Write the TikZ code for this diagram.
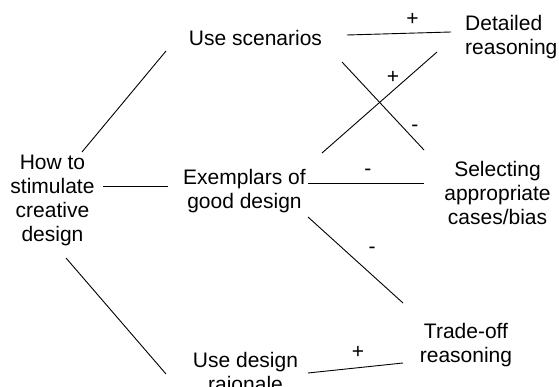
\documentclass[tikz,border=0pt]{standalone}
\usepackage{fontspec}
\setmainfont{Liberation Sans}
\usetikzlibrary{calc}
\begin{document}
\begin{tikzpicture}[x=1pt,y=-1pt,
  lbl/.style={inner sep=0pt, align=center, anchor=north, font=\fontsize{21}{24}\selectfont},
  sgn/.style={inner sep=0pt, font=\fontsize{21}{24}\selectfont},
  link/.style={line width=0.9pt}]
\useasboundingbox (0,0) rectangle (559,387);
\clip (0,0) rectangle (559,387);
\fill[white] (0,0) rectangle (559,387);

% concepts
\node[lbl] (how) at (52.5,155) {How to\\stimulate\\creative\\design};
\node[lbl] (usescen) at (255.5,30) {Use scenarios};
\node[lbl] (exemplars) at (244.5,169) {Exemplars of\\good design};
\node[lbl] (usedesign) at (245.5,352) {Use design\\raionale};
\node[lbl, align=left, anchor=north west] (detailed) at (465,15) {Detailed\\reasoning};
\node[lbl] (selecting) at (497.5,161) {Selecting\\appropriate\\cases/bias};
\node[lbl] (tradeoff) at (466,323) {Trade-off\\reasoning};

% options from the question
\draw[link] ($(how.north)+(29.5,-3)$) -- ($(usescen.north)+(-89.5,21)$);
\draw[link] ($(how.north)+(50.5,31)$) -- ($(exemplars.north)+(-76.5,17)$);
\draw[link] ($(how.north)+(13.5,103)$) -- ($(usedesign.north)+(-79.5,22)$);

% criteria with their signs
\draw[link] ($(usescen.north)+(91.5,5)$) -- ($(detailed.north west)+(-14,17)$)
  node[sgn, pos=0.63, yshift=13.8pt] (s1) {+};
\draw[link] ($(exemplars.north)+(77.5,-16)$) -- ($(detailed.north west)+(-28,37)$)
  node[sgn, pos=0.617, yshift=13.5pt] (s2) {+};
\draw[link] ($(usescen.north)+(86.5,32)$) -- ($(selecting.north)+(-73.5,-11)$)
  node[sgn, pos=0.89, yshift=11.7pt] (s3) {-};
\draw[link] ($(exemplars.north)+(63.5,14)$) -- ($(selecting.north)+(-73.5,22)$)
  node[sgn, pos=0.517, yshift=10.7pt] (s4) {-};
\draw[link] ($(exemplars.north)+(63.5,48)$) -- ($(tradeoff.north)+(-63,-20)$)
  node[sgn, pos=0.674, yshift=24.7pt] (s5) {-};
\draw[link] ($(usedesign.north)+(62.5,21)$) -- ($(tradeoff.north)+(-63,40)$)
  node[sgn, pos=0.526, yshift=15.5pt] (s6) {+};
\end{tikzpicture}
\end{document}
